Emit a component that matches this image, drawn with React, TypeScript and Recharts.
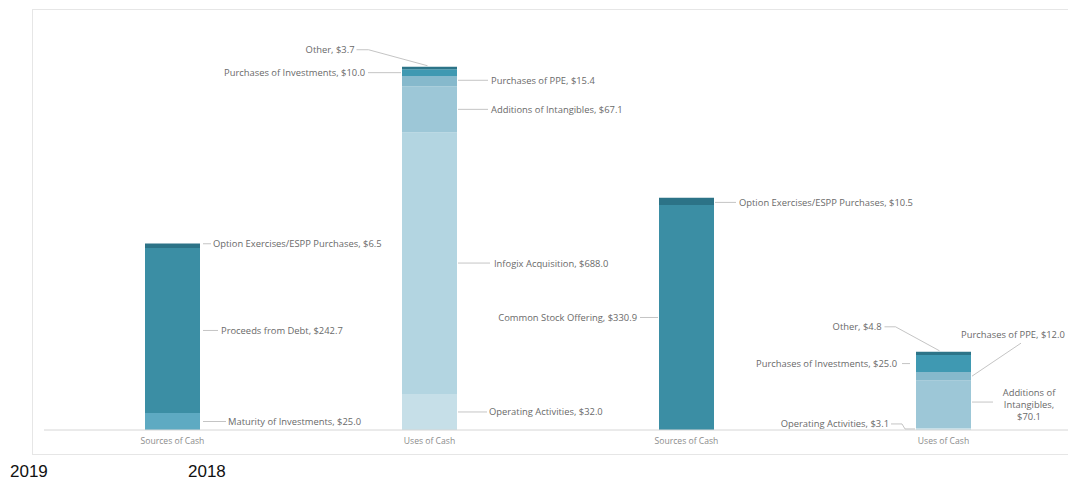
import React from "react";
import { BarChart, Bar, XAxis, YAxis, LabelList } from "recharts";

const categories = ["Sources of Cash", "Uses of Cash", "Sources of Cash", "Uses of Cash"];
const years = ["2019", "2018"];

// $M amounts shown in the labels, one slot per category
const maturity = [25.0, 0, 0, 0];
const proceedsDebt = [242.7, 0, 0, 0];
const optionEspp = [6.5, 0, 10.5, 0];
const stockOffering = [0, 0, 330.9, 0];
const operating = [0, 32.0, 0, 3.1];
const infogix = [0, 688.0, 0, 0];
const intangibles = [0, 67.1, 0, 70.1];
const ppe = [0, 15.4, 0, 12.0];
const investments = [0, 10.0, 0, 25.0];
const other = [0, 3.7, 0, 4.8];

// the original squeezes the 2019 uses bar, heights as drawn there
const drawnOperating = [0, 53, 0, 3.1];
const drawnInfogix = [0, 385, 0, 0];

const series = [
  { key: "maturity", name: "Maturity of Investments", amounts: maturity, drawn: maturity, color: "#5eaac2" },
  { key: "offering", name: "Common Stock Offering", amounts: stockOffering, drawn: stockOffering, color: "#3b8ea4" },
  { key: "proceeds", name: "Proceeds from Debt", amounts: proceedsDebt, drawn: proceedsDebt, color: "#3b8ea4" },
  { key: "option", name: "Option Exercises/ESPP Purchases", amounts: optionEspp, drawn: optionEspp, color: "#2c7387" },
  { key: "operating", name: "Operating Activities", amounts: operating, drawn: drawnOperating, color: "#c6dfe8" },
  { key: "infogix", name: "Infogix Acquisition", amounts: infogix, drawn: drawnInfogix, color: "#b3d5e1" },
  { key: "intangibles", name: "Additions of Intangibles", amounts: intangibles, drawn: intangibles, color: "#9dc7d7" },
  { key: "ppe", name: "Purchases of PPE", amounts: ppe, drawn: ppe, color: "#86b9cc" },
  { key: "investments", name: "Purchases of Investments", amounts: investments, drawn: investments, color: "#3f99b2" },
  { key: "other", name: "Other", amounts: other, drawn: other, color: "#2c7488" },
];

const data = categories.map((c, i) => {
  const row: Record<string, any> = { idx: i, cat: c };
  series.forEach((s) => {
    row[s.key] = s.drawn[i];
  });
  return row;
});

// leader line layout: ref point on the segment, line points and text offset from it
type Spec = {
  key: string;
  cat: number;
  ref: "r" | "l" | "t";
  pts: [number, number][];
  tx: number;
  ty: number;
  anchor: "start" | "end" | "middle";
  wrap?: boolean;
};

const specs: Spec[] = [
  { key: "maturity", cat: 0, ref: "r", pts: [[3, 0], [26, 0]], tx: 28, ty: 0, anchor: "start" },
  { key: "proceeds", cat: 0, ref: "r", pts: [[3, 0], [18, 0]], tx: 21, ty: 0, anchor: "start" },
  { key: "option", cat: 0, ref: "r", pts: [[3, -2], [11, -2]], tx: 13, ty: -2, anchor: "start" },
  { key: "operating", cat: 1, ref: "r", pts: [[1, 0], [30, 0]], tx: 32, ty: 0, anchor: "start" },
  { key: "infogix", cat: 1, ref: "r", pts: [[1, 0], [33, 0]], tx: 37, ty: 0, anchor: "start" },
  { key: "intangibles", cat: 1, ref: "r", pts: [[1, 0], [31, 0]], tx: 34, ty: 0, anchor: "start" },
  { key: "ppe", cat: 1, ref: "r", pts: [[1, -1], [31, -1]], tx: 34, ty: -1, anchor: "start" },
  { key: "investments", cat: 1, ref: "l", pts: [[-1, 0], [-34, 0]], tx: -37, ty: 0, anchor: "end" },
  { key: "other", cat: 1, ref: "t", pts: [[-73, -17], [-61, -17], [-2, -1]], tx: -75, ty: -17, anchor: "end" },
  { key: "option", cat: 2, ref: "r", pts: [[1, 1], [22, 1]], tx: 25, ty: 1, anchor: "start" },
  { key: "offering", cat: 2, ref: "l", pts: [[-1, 0], [-19, 0]], tx: -22, ty: 0, anchor: "end" },
  { key: "other", cat: 3, ref: "t", pts: [[-59, -25], [-48, -25], [-4, -1]], tx: -62, ty: -25, anchor: "end" },
  { key: "ppe", cat: 3, ref: "r", pts: [[1, 0], [50, -33]], tx: -10, ty: -42, anchor: "start" },
  { key: "investments", cat: 3, ref: "l", pts: [[-6, 0], [-14, 0]], tx: -19, ty: 0, anchor: "end" },
  { key: "intangibles", cat: 3, ref: "r", pts: [[1, -2], [22, -2]], tx: 58, ty: 0, anchor: "middle", wrap: true },
  { key: "operating", cat: 3, ref: "l", pts: [[-1, 0], [-11, 0], [-14, -5], [-25, -5]], tx: -27, ty: -5, anchor: "end" },
];

const labelFont = { fontFamily: "'Open Sans', sans-serif", fontSize: 9.4, fill: "#6a6a6a" };

// LabelList reads "idx", so props.value is the category of the segment
function makeLabel(key: string) {
  const s = series.find((x) => x.key === key)!;
  return (props: any) => {
    const vb = props.viewBox && props.viewBox.width != null ? props.viewBox : props;
    const x = Number(vb.x), y = Number(vb.y), w = Number(vb.width), h = Number(vb.height);
    const cat = Number(props.value);
    const spec = specs.find((p) => p.key === key && p.cat === cat);
    if (!spec || isNaN(x)) return null;
    const rx = spec.ref === "r" ? x + w : spec.ref === "l" ? x : x + w / 2;
    const ry = spec.ref === "t" ? Math.min(y, y + h) : y + h / 2;
    const amount = s.amounts[cat];
    const lines = spec.wrap
      ? [s.name.split(" ").slice(0, 2).join(" "), s.name.split(" ").slice(2).join(" ") + ",", `$${amount.toFixed(1)}`]
      : [`${s.name}, $${amount.toFixed(1)}`];
    const pts = spec.pts.map(([dx, dy]) => `${rx + dx},${ry + dy}`).join(" ");
    return (
      <g>
        <polyline points={pts} fill="none" stroke="#b5b5b5" strokeWidth={0.8} />
        {lines.map((t, i) => (
          <text
            key={i}
            x={rx + spec.tx}
            y={ry + spec.ty + (i - (lines.length - 1) / 2) * 12}
            textAnchor={spec.anchor}
            dominantBaseline="central"
            {...labelFont}
          >
            {t}
          </text>
        ))}
      </g>
    );
  };
}

export default function App() {
  return (
    <div style={{ position: "fixed", left: 0, top: 0, width: 1068, height: 480, overflow: "hidden", background: "#fff" }}>
      <div
        style={{
          position: "absolute",
          left: 32,
          top: 9,
          width: 1060,
          height: 446,
          border: "1px solid #e6e6e6",
          boxSizing: "border-box",
        }}
      />
      <div style={{ position: "absolute", left: 0, top: 0 }}>
        <BarChart width={1080} height={480} data={data} margin={{ top: 22, right: 8, bottom: 30, left: 44 }} barSize={55}>
          <XAxis
            dataKey="idx"
            tickFormatter={(v) => categories[v]}
            interval={0}
            tickLine={false}
            height={20}
            axisLine={{ stroke: "#d6d6d6" }}
            tick={{ fontFamily: "'Open Sans', sans-serif", fontSize: 8.6, fill: "#8c8c8c" }}
          />
          <YAxis hide domain={[0, 600]} />
          {series.map((s) => (
            <Bar key={s.key} dataKey={s.key} stackId="a" fill={s.color} isAnimationActive={false}>
              <LabelList dataKey="idx" content={makeLabel(s.key)} />
            </Bar>
          ))}
        </BarChart>
      </div>
      <svg width={1068} height={480} style={{ position: "absolute", left: 0, top: 0, pointerEvents: "none" }}>
        <text x={10} y={477} fontFamily="'Liberation Sans', Arial, sans-serif" fontSize={17} fill="#111">
          {years[0]}
        </text>
        <text x={188} y={477} fontFamily="'Liberation Sans', Arial, sans-serif" fontSize={17} fill="#111">
          {years[1]}
        </text>
      </svg>
    </div>
  );
}
